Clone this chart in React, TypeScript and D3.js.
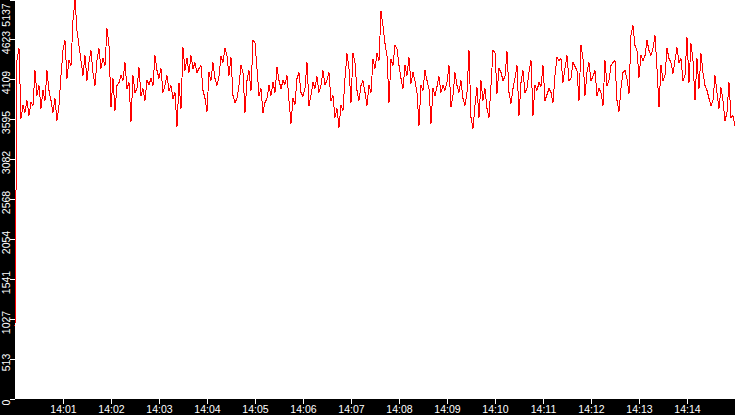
import React from 'react';
import * as d3 from 'd3';

// Series values, sampled evenly between 14:00:00 and 14:15:00
const values: number[] = [
  930, 4352, 4506, 3605, 3772, 3682, 3837, 3643, 3811, 3772,
  4223, 3901, 4030, 3734, 3966, 3837, 4223, 3966, 3837, 3682,
  3863, 3579, 3772, 4159, 4481, 4609, 4120, 4352, 4288, 4867,
  5130, 4738, 4545, 4352, 4159, 4416, 4094, 4326, 4481, 4197,
  4030, 4352, 4506, 4249, 4378, 4288, 4764, 4545, 3747, 4120,
  3708, 4030, 4068, 4159, 4094, 4326, 3991, 4068, 3566, 4159,
  3940, 3991, 4262, 3901, 3991, 3837, 4094, 4043, 4120, 4030,
  4416, 4223, 4120, 4249, 3940, 4030, 4159, 3966, 4030, 3863,
  3940, 3502, 4068, 3734, 4519, 4223, 4378, 4197, 4416, 4249,
  4326, 4197, 4249, 4288, 3966, 3863, 3695, 4197, 4094, 4326,
  4120, 4030, 4146, 4403, 4326, 4506, 4416, 4159, 4390, 3901,
  3811, 3863, 4030, 4288, 4197, 3682, 4094, 4223, 3966, 4609,
  4584, 4249, 3901, 3991, 3682, 3811, 3863, 4030, 3901, 4068,
  3940, 4262, 4094, 3991, 4094, 4043, 4159, 3837, 3540, 3863,
  3785, 4120, 4197, 3940, 3888, 3991, 4326, 3772, 3901, 4068,
  3991, 4146, 3940, 4030, 4223, 4043, 4094, 4197, 3837, 3901,
  3618, 3734, 3489, 3772, 3708, 4120, 4442, 4249, 3811, 4442,
  4326, 3966, 3837, 4030, 4094, 3940, 3772, 4030, 3940, 4365,
  4249, 4442, 4352, 4983, 4803, 4571, 4416, 3811, 4365, 4288,
  4545, 4506, 4288, 4120, 3991, 4288, 4159, 4390, 4056, 4197,
  4094, 3940, 3515, 4030, 3966, 4223, 4094, 3991, 3540, 3991,
  3901, 4017, 4146, 3940, 4030, 3966, 4068, 4288, 3747, 3901,
  4197, 4030, 3940, 4094, 3863, 3772, 3940, 4481, 3618, 3476,
  3772, 4004, 3618, 4094, 3837, 3991, 3734, 3618, 4030, 4481,
  4455, 3927, 4249, 4197, 4094, 4146, 4468, 3940, 3798, 3991,
  4120, 4288, 3643, 4068, 4223, 3940, 3991, 4197, 4352, 3643,
  4030, 3966, 4068, 4017, 4288, 3837, 3914, 3991, 3940, 3811,
  4159, 4390, 4352, 4378, 4068, 4249, 4416, 4094, 4120, 4326,
  4275, 4223, 3837, 4545, 4378, 3901, 4197, 4326, 4094, 4146,
  4223, 3901, 3991, 3940, 3772, 4352, 4030, 4094, 4288, 4326,
  4352, 3837, 3695, 3991, 4197, 4223, 4120, 3927, 4674, 4803,
  4545, 4481, 4133, 4416, 4352, 4416, 4609, 4481, 4416, 4506,
  4674, 4249, 3747, 4288, 4094, 4159, 4506, 4378, 4326, 4184,
  4352, 4519, 4326, 4378, 4094, 4159, 4648, 4068, 4571, 4352,
  3837, 4378, 3991, 4442, 4197, 4030, 3966, 3863, 3772, 3837,
  4159, 3940, 3734, 4004, 3837, 3579, 3682, 4068, 3618, 3643,
  3515,
];

const startTime = '14:00:00';
const endTime = '14:15:00';

const yTickValues: number[] = [0, 513.7, 1027.4, 1541.1, 2054.8, 2568.5, 3082.2, 3595.9, 4109.6, 4623.3, 5137];
const yTickLabels: string[] = ['0', '513', '1027', '1541', '2054', '2568', '3082', '3595', '4109', '4623', '5137'];
const yMax = 5137;

const xTickLabels: string[] = [
  '14:01', '14:02', '14:03', '14:04', '14:05', '14:06', '14:07',
  '14:08', '14:09', '14:10', '14:11', '14:12', '14:13', '14:14',
];

const W = 735;
const H = 415;
const LEFT = 15;
const PLOT_BOTTOM = 399;
const FONT = '"Liberation Sans", Arial, sans-serif';

export default function App() {
  const parseT = d3.timeParse('%H:%M:%S');
  const parseM = d3.timeParse('%H:%M');
  const t0 = parseT(startTime) as Date;
  const t1 = parseT(endTime) as Date;

  const x = d3.scaleTime().domain([t0, t1]).range([LEFT, W]);
  const y = d3.scaleLinear().domain([0, yMax]).range([398.5, -0.5]);

  const n = values.length;
  const stepMs = (t1.getTime() - t0.getTime()) / (n - 1);
  const points: [Date, number][] = values.map((v, i) => [new Date(t0.getTime() + i * stepMs), v]);

  const line = d3
    .line<[Date, number]>()
    .x((d) => x(d[0]))
    .y((d) => y(d[1]))
    .curve(d3.curveLinear);

  return (
    <svg
      width={W}
      height={H}
      style={{ position: 'absolute', left: 0, top: 0, background: '#fff', display: 'block' }}
    >
      <rect x={0} y={0} width={W} height={H} fill="#fff" />
      {/* axis bands */}
      <rect x={0} y={0} width={LEFT} height={H} fill="#000" />
      <rect x={0} y={PLOT_BOTTOM} width={W} height={H - PLOT_BOTTOM} fill="#000" />

      {/* y axis ticks + labels */}
      {yTickValues.map((v, i) => {
        const ty = Math.round(y(v)) + 0.5;
        let cy = ty + 3;
        if (cy < 15) cy = 15;
        return (
          <g key={'y' + i}>
            <line x1={10} x2={LEFT} y1={ty} y2={ty} stroke="#fff" strokeWidth={1} shapeRendering="crispEdges" />
            <text
              transform={`translate(10,${cy}) rotate(-90)`}
              textAnchor="middle"
              fill="#fff"
              fontSize={10.5}
              fontFamily={FONT}
            >
              {yTickLabels[i]}
            </text>
          </g>
        );
      })}

      {/* x axis ticks + labels */}
      {xTickLabels.map((lab, i) => {
        const d = parseM(lab) as Date;
        const tx = Math.round(x(d)) + 0.5;
        return (
          <g key={'x' + i}>
            <line x1={tx} x2={tx} y1={PLOT_BOTTOM} y2={404} stroke="#fff" strokeWidth={1} shapeRendering="crispEdges" />
            <text x={tx} y={413} textAnchor="middle" fill="#fff" fontSize={10.5} fontFamily={FONT}>
              {lab}
            </text>
          </g>
        );
      })}

      {/* series */}
      <path d={line(points) || ''} fill="none" stroke="#ff0000" strokeWidth={1} shapeRendering="crispEdges" />
    </svg>
  );
}
